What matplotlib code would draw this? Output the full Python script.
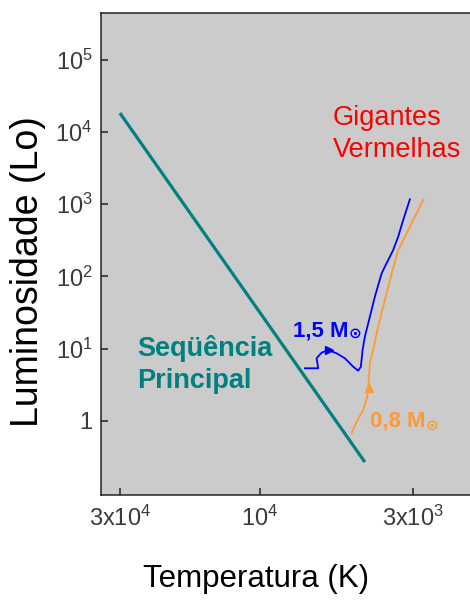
import matplotlib
matplotlib.use("Agg")
from matplotlib import pyplot as plt

plt.rcParams['font.family'] = 'Liberation Sans'
plt.rcParams['mathtext.fontset'] = 'custom'
plt.rcParams['mathtext.rm'] = 'Liberation Sans'
plt.rcParams['mathtext.it'] = 'Liberation Sans:italic'
plt.rcParams['mathtext.bf'] = 'Liberation Sans:bold'

# main sequence (two ends)
seq_temp = [30000, 4375]
seq_lum = [18200, 0.27]

# 1.5 solar mass track
track15_temp = [7008, 6313, 6393, 6146, 5836, 5465, 5119, 4796, 4611, 4514,
                4454, 4374, 4206, 4044, 3835, 3688, 3501, 3367, 3237, 3071]
track15_lum = [5.36, 5.36, 7.37, 8.81, 9.59, 8.64, 7.37, 5.64, 4.96, 5.64,
               9.59, 14.7, 27.7, 52.4, 110, 152, 232, 354, 603, 1165]

# 0.8 solar mass track
track08_temp = [4857, 4670, 4432, 4296, 4239, 4206, 4098, 3940, 3788, 3688,
                3545, 3367, 3152, 2953, 2766]
track08_lum = [0.676, 0.978, 1.42, 2.17, 3.69, 6.28, 9.59, 20.2, 38.1, 58.4,
               110, 232, 394, 670, 1140]

# direction arrows on the tracks
arrow15 = (5800, 9.5)
arrow08 = (4239, 2.9)

x_ticks = [30000, 10000, 3000]
x_ticklabels = ['3x$10^4$', '$10^4$', '3x$10^3$']
y_ticks = [1, 10, 100, 1000, 10000, 100000]
y_ticklabels = ['1', '$10^1$', '$10^2$', '$10^3$', '$10^4$', '$10^5$']

W, H = 470, 607


def px(x, y):
    return x / W, 1 - y / H


fig = plt.figure(figsize=(W / 100, H / 100), dpi=100)
fig.patch.set_facecolor('white')
ax = fig.add_axes([101 / W, (H - 495) / H, 379 / W, 482 / H])
ax.set_facecolor('#cbcbcb')

ax.set_xscale('log')
ax.set_yscale('log')
ax.set_xlim(34800, 1770)
ax.set_ylim(0.0947, 4.4e5)

ax.plot(seq_temp, seq_lum, color='#008080', lw=2.3, solid_capstyle='butt')
ax.plot(track15_temp, track15_lum, color='#0000ff', lw=1.3)
ax.plot(track08_temp, track08_lum, color='#ff9933', lw=1.3)
ax.plot(*arrow15, marker='>', color='#0000ff', ms=6)
ax.plot(*arrow08, marker='^', color='#ff9933', ms=6)

ax.minorticks_off()
ax.set_xticks(x_ticks)
ax.set_xticklabels(x_ticklabels)
ax.set_yticks(y_ticks)
ax.set_yticklabels(y_ticklabels)
ax.tick_params(axis='both', direction='in', labelsize=17, labelcolor='#3a3a3a',
               color='#222222', width=1.1)
ax.tick_params(axis='x', length=5, pad=8)
ax.tick_params(axis='y', length=5, pad=6)
for s in ax.spines.values():
    s.set_color('#222222')
    s.set_linewidth(1.1)

fig.text(*px(333, 125), 'Gigantes', color='#ff0000', fontsize=19.5, va='baseline')
fig.text(*px(333, 157), 'Vermelhas', color='#ff0000', fontsize=19.5, va='baseline')
fig.text(*px(137, 356), 'Seqüência', color='#008080', fontsize=19.5,
         fontweight='bold', va='baseline')
fig.text(*px(137, 388), 'Principal', color='#008080', fontsize=19.5,
         fontweight='bold', va='baseline')
fig.text(*px(293, 337), '1,5 M', color='#0000ff', fontsize=16,
         fontweight='bold', va='baseline')
fig.text(*px(349, 338), '⊙', color='#0000ff', fontsize=11, family='DejaVu Sans',
         fontweight='bold', va='baseline')
fig.text(*px(370, 426), '0,8 M', color='#ff9933', fontsize=16,
         fontweight='bold', va='baseline')
fig.text(*px(426, 430), '⊙', color='#ff9933', fontsize=11, family='DejaVu Sans',
         fontweight='bold', va='baseline')

fig.text(*px(256, 587), 'Temperatura (K)', fontsize=22.5, ha='center', va='baseline')
fig.text(*px(28, 272), 'Luminosidade (Lo)', fontsize=27, rotation=90,
         ha='center', va='center')

plt.savefig('out.png', dpi=100)
